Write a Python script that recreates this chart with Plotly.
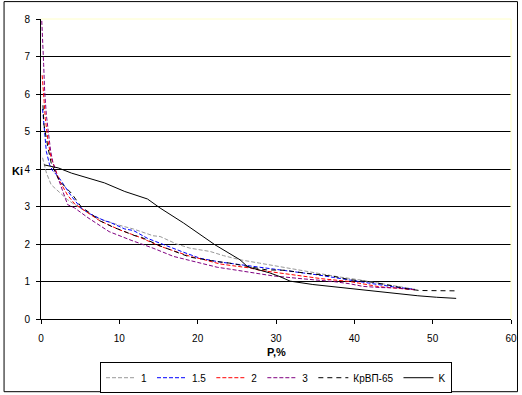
import plotly.graph_objects as go

# ---- data ----
P_1 = [0.2, 0.45, 0.7, 1.3, 2.2, 3.4, 4.3, 6.0, 7.5, 8.5, 10.0, 11.8, 14.3, 15.2, 17.3,
       19.0, 20.3, 21.6, 23.3, 25.4, 27.9, 30.1, 32.2, 35.2, 38.1, 40.5, 42.5, 44.5, 46.5, 47.8]
K_1 = [4.3, 4.05, 3.89, 3.58, 3.4, 3.18, 3.05, 2.83, 2.67, 2.6, 2.5, 2.4, 2.22, 2.2, 2.0,
       1.89, 1.85, 1.8, 1.69, 1.58, 1.49, 1.41, 1.33, 1.23, 1.12, 1.05, 0.98, 0.9, 0.83, 0.79]

P_15 = [0.2, 0.38, 0.47, 0.68, 1.1, 1.5, 2.2, 3.9, 5.1, 6.3, 8.1, 8.8, 10.7, 11.8, 13.6, 14.8,
        16.5, 18.2, 20.3, 22.8, 25.4, 28.8, 30.3, 33.5, 35.2, 37.3, 40.3, 42.4, 44.9, 46.2, 47.7]
K_15 = [5.6, 5.18, 4.83, 4.47, 4.11, 3.95, 3.8, 3.27, 2.96, 2.8, 2.62, 2.58, 2.4, 2.36, 2.15, 2.05,
        1.92, 1.78, 1.62, 1.52, 1.45, 1.36, 1.32, 1.23, 1.18, 1.11, 1.0, 0.94, 0.86, 0.83, 0.79]

P_2 = [0.15, 0.2, 0.4, 0.55, 0.9, 1.3, 1.95, 2.4, 3.4, 4.3, 5.5, 7.5, 10.0, 12.6, 15.2, 17.3,
       19.2, 20.5, 22.8, 24.5, 26.7, 27.9, 29.6, 32.2, 36.0, 39.4, 41.1, 43.2, 44.9, 46.5, 47.7]
K_2 = [6.5, 6.3, 5.8, 5.35, 4.74, 4.29, 3.94, 3.67, 3.3, 3.07, 2.9, 2.62, 2.38, 2.18, 1.94, 1.8,
       1.66, 1.6, 1.47, 1.42, 1.36, 1.3, 1.25, 1.18, 1.07, 1.0, 0.93, 0.86, 0.83, 0.8, 0.78]

P_3 = [0.1, 0.15, 0.34, 0.47, 0.68, 0.98, 1.24, 1.5, 1.95, 3.4, 4.3, 6.0, 8.7, 11.5, 13.6,
       14.3, 16.9, 19.4, 20.7, 22.5, 24.1, 26.7, 28.4, 29.6, 33.5, 37.3, 39.4, 41.1, 43.2, 45.2, 47.7]
K_3 = [7.95, 7.6, 6.78, 6.07, 5.45, 4.91, 4.47, 4.2, 3.89, 3.05, 2.96, 2.7, 2.33, 2.1, 1.94,
       1.89, 1.67, 1.54, 1.47, 1.38, 1.33, 1.25, 1.2, 1.15, 1.07, 1.0, 0.94, 0.87, 0.84, 0.83, 0.78]

P_kr = [0.25, 0.38, 0.9, 1.3, 1.95, 2.4, 3.9, 5.1, 6.8, 7.5, 9.4, 10.1, 12.0, 12.6, 15.2, 17.3,
        19.0, 22.2, 24.1, 26.7, 28.8, 31.1, 33.5, 37.3, 39.4, 42.4, 44.1, 46.9, 48.3, 53.3]
K_kr = [5.7, 5.18, 4.56, 4.16, 3.85, 3.67, 3.35, 3.0, 2.74, 2.62, 2.43, 2.38, 2.22, 2.2, 1.95, 1.78,
        1.65, 1.54, 1.49, 1.39, 1.31, 1.3, 1.23, 1.14, 1.05, 0.98, 0.91, 0.8, 0.76, 0.75]

P_k = [0.4, 2.2, 3.9, 8.1, 10.7, 13.6, 15.2, 18.2, 22.2, 25.4, 26.4, 27.9, 29.2, 30.5, 31.8,
       34.7, 37.7, 40.7, 44.5, 46.2, 48.1, 50.5, 53.0]
K_k = [4.11, 4.03, 3.89, 3.63, 3.40, 3.2, 2.96, 2.56, 1.98, 1.58, 1.39, 1.30, 1.23, 1.13, 1.01,
       0.92, 0.85, 0.78, 0.69, 0.67, 0.62, 0.58, 0.55]

SERIES = [
    ("1", P_1, K_1, "#999999", "4px,2px"),
    ("1.5", P_15, K_15, "#0000FF", "4px,2px"),
    ("2", P_2, K_2, "#FF0000", "4px,2px"),
    ("3", P_3, K_3, "#800080", "4px,2px"),
    ("КрВП-65", P_kr, K_kr, "#000000", "5px,4px"),
    ("K", P_k, K_k, "#000000", "solid"),
]

X_TICKS = [0, 10, 20, 30, 40, 50, 60]
Y_TICKS = [0, 1, 2, 3, 4, 5, 6, 7, 8]
GRID_Y = [1, 2, 3, 4, 5, 6, 7]

FONT = "Liberation Sans, Arial, sans-serif"

fig = go.Figure()
for name, xs, ys, color, dash in SERIES:
    fig.add_trace(go.Scatter(x=xs, y=ys, name=name, mode="lines",
                             line=dict(color=color, width=1, dash=dash)))

# helper invisible trace for grid axis
fig.add_trace(go.Scatter(x=[0], y=[0], yaxis="y2", mode="lines", showlegend=False,
                         hoverinfo="skip", line=dict(width=0)))

fig.update_layout(
    width=522, height=395,
    margin=dict(l=41, r=11, t=19, b=76, autoexpand=False),
    paper_bgcolor="white", plot_bgcolor="white",
    font=dict(family=FONT, size=10, color="black"),
    xaxis=dict(range=[0, 60], tickvals=X_TICKS, ticks="outside", ticklen=4,
               tickcolor="black", showline=True, linecolor="black", linewidth=1,
               showgrid=False, zeroline=False, ticklabelstandoff=6,
               tickfont=dict(size=10), automargin=False),
    yaxis=dict(range=[0, 8], tickvals=Y_TICKS, ticks="outside", ticklen=4,
               tickcolor="black", showline=True, linecolor="black", linewidth=1,
               showgrid=False, zeroline=False, ticklabelstandoff=4,
               tickfont=dict(size=10), automargin=False),
    yaxis2=dict(range=[0, 8], tickvals=GRID_Y, overlaying="y", showticklabels=False,
                showgrid=True, gridcolor="black", gridwidth=1, zeroline=False,
                ticks="", showline=False, automargin=False),
    showlegend=True,
    legend=dict(orientation="h", x=0.5, xanchor="center",
                yref="container", y=0.083, yanchor="top",
                bordercolor="black", borderwidth=1, bgcolor="white",
                font=dict(size=10), itemwidth=30, tracegroupgap=0),
    annotations=[
        dict(text="<b>Ki</b>", xref="paper", yref="paper", x=-0.051, y=0.494,
             showarrow=False, font=dict(size=11), xanchor="center", yanchor="middle"),
        dict(text="<b>P,%</b>", xref="paper", yref="paper", x=0.5, y=-0.11,
             showarrow=False, font=dict(size=11), xanchor="center", yanchor="middle"),
    ],
    shapes=[
        dict(type="rect", xref="paper", yref="paper", x0=-0.0786, x1=1.0138,
             y0=-0.2423, y1=1.058, line=dict(color="black", width=1), layer="above"),
        dict(type="line", xref="paper", yref="paper", x0=0, x1=1, y0=1, y1=1,
             line=dict(color="#FFFFC8", width=1)),
        dict(type="line", xref="paper", yref="paper", x0=1, x1=1, y0=0, y1=1,
             line=dict(color="#FFFFC8", width=1)),
    ],
)

fig.write_html("out.html", config={"displayModeBar": False},
               post_script="document.body.style.margin='0';document.body.style.overflow='hidden';")
